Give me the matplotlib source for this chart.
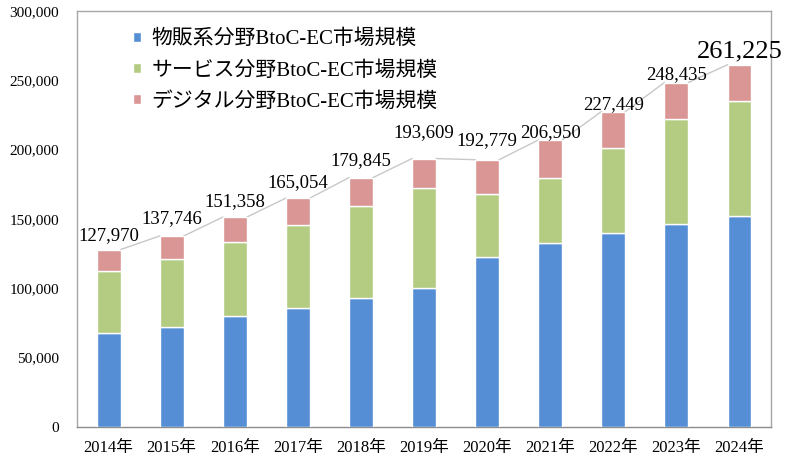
import numpy as np
import matplotlib
matplotlib.use('Agg')
import matplotlib.pyplot as plt

plt.rcParams['font.family'] = ['Liberation Serif', 'Noto Sans CJK JP']

# data (億円)
years = ['2014年', '2015年', '2016年', '2017年', '2018年', '2019年',
         '2020年', '2021年', '2022年', '2023年', '2024年']
buppan = [68043, 72398, 80043, 86008, 92992, 100515,
          122333, 132865, 139997, 146760, 152194]
service = [44816, 49014, 53532, 59568, 66471, 71672,
           45832, 46424, 61477, 75169, 82657]
digital = [15111, 16334, 17782, 19478, 20382, 21422,
           24614, 27661, 25974, 26506, 26374]
totals = [127970, 137746, 151358, 165054, 179845, 193609,
          192779, 206950, 227449, 248435, 261225]
series_names = ['物販系分野BtoC-EC市場規模', 'サービス分野BtoC-EC市場規模',
                'デジタル分野BtoC-EC市場規模']

# label lift above bar top (pixels), as placed in the original
label_lift = [13.6, 17.7, 15.3, 15.3, 17.5, 26, 19, 7.7, 7.3, 8, 13.3]

colors = ['#558ED5', '#B3CC82', '#D99694']

fig = plt.figure(figsize=(7.9, 4.71), dpi=100)
ax = fig.add_axes([0.0975, 0.0934, 0.8785, 0.8832])

x = np.arange(len(years))
w = 0.38
b1 = np.array(buppan)
b2 = np.array(service)
b3 = np.array(digital)

h1 = ax.bar(x, b1, w, color=colors[0], edgecolor='white', linewidth=1, zorder=3)
h2 = ax.bar(x, b2, w, bottom=b1, color=colors[1], edgecolor='white', linewidth=1, zorder=3)
h3 = ax.bar(x, b3, w, bottom=b1 + b2, color=colors[2], edgecolor='white', linewidth=1, zorder=3)

# series lines between bar tops
for i in range(len(years) - 1):
    ax.plot([x[i] + w / 2, x[i + 1] - w / 2], [totals[i], totals[i + 1]],
            color='#C8C8C8', linewidth=1, zorder=2)

for i, t in enumerate(totals):
    size = 19 if i == len(totals) - 1 else 13.5
    ax.annotate(f'{t:,}', (x[i], t), xytext=(0, label_lift[i] * 0.72),
                textcoords='offset points', ha='center', va='center',
                fontsize=size, color='black', zorder=4)

ax.set_xlim(-0.5, len(years) - 0.5)
ax.set_ylim(0, 300000)
ax.set_yticks(np.arange(0, 300001, 50000))
ax.set_yticklabels([f'{v:,}' for v in range(0, 300001, 50000)], fontsize=11)
ax.set_xticks(x)
ax.set_xticklabels(years, fontsize=12)
ax.tick_params(axis='both', length=0)
ax.tick_params(axis='y', pad=13)
ax.tick_params(axis='x', pad=9)

for s in ax.spines.values():
    s.set_color('#A6A6A6')
    s.set_linewidth(1)
ax.spines['bottom'].set_color('#8C8C8C')

ax.legend([h1, h2, h3], series_names, loc='upper left',
          bbox_to_anchor=(0.08, 0.955), frameon=False, fontsize=15,
          handlelength=0.4, handleheight=0.4, handletextpad=0.5,
          labelspacing=0.55, borderpad=0, borderaxespad=0)

fig.savefig('out.png', dpi=100)
